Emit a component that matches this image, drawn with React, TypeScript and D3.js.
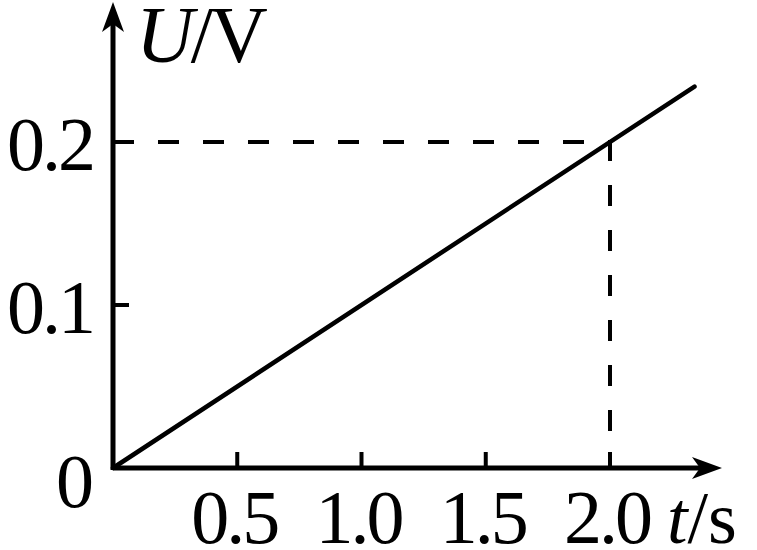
import React from "react";
import * as d3 from "d3";

// values
const xTicks = [0.5, 1.0, 1.5, 2.0];
const xTickLabels = ["0.5", "1.0", "1.5", "2.0"];
const yTicks = [0.1, 0.2];
const yTickLabels = ["0.1", "0.2"];
const lineT = [0, 2.34];
const lineU = [0, 0.234];
const markT = 2.0;
const markU = 0.2;

const width = 757;
const height = 550;
const origin = { x: 113, y: 468 };

const App = () => {
    // x: time (s), y: voltage (V)
    const x = d3.scaleLinear().domain([0, 2]).range([origin.x, 610]);
    const y = d3.scaleLinear().domain([0, 0.2]).range([origin.y, 142]);

    const line = d3
        .line<number>()
        .x((d, i) => x(lineT[i]))
        .y((d) => y(d));

    const font = "'Liberation Serif', 'Times New Roman', serif";
    const xEnd = 722;
    const yEnd = 2;

    return (
        <svg
            width={width}
            height={height}
            style={{ position: "absolute", left: 0, top: 0, background: "#fff" }}
        >
            {/* dashed guides */}
            <path
                d={`M${x(0)},${y(markU)}H${x(markT)}V${y(0)}`}
                fill="none"
                stroke="#000"
                strokeWidth={4}
                strokeDasharray="21,24"
            />

            {/* axes */}
            <line x1={origin.x} y1={origin.y} x2={xEnd - 10} y2={origin.y} stroke="#000" strokeWidth={5} />
            <line x1={origin.x} y1={origin.y + 2} x2={origin.x} y2={yEnd + 12} stroke="#000" strokeWidth={5} />
            <path
                d={`M${xEnd},${origin.y}L${xEnd - 30},${origin.y - 11}L${xEnd - 22},${origin.y}L${xEnd - 30},${origin.y + 11}Z`}
                fill="#000"
            />
            <path
                d={`M${origin.x},${yEnd}L${origin.x - 11},${yEnd + 30}L${origin.x},${yEnd + 22}L${origin.x + 11},${yEnd + 30}Z`}
                fill="#000"
            />

            {/* ticks */}
            {xTicks.map((t) => (
                <line key={t} x1={x(t)} x2={x(t)} y1={origin.y} y2={origin.y - 16} stroke="#000" strokeWidth={4} />
            ))}
            {yTicks.map((u) => (
                <line key={u} x1={origin.x} x2={origin.x + 16} y1={y(u)} y2={y(u)} stroke="#000" strokeWidth={4} />
            ))}

            {/* data line */}
            <path d={line(lineU) || ""} fill="none" stroke="#000" strokeWidth={4.5} strokeLinecap="round" />

            {/* tick labels */}
            <g fontFamily={font} fontSize={76} fill="#000">
                {xTicks.map((t, i) => (
                    <text key={t} x={x(t) - 3} y={543} textAnchor="middle" letterSpacing={-3}>
                        {xTickLabels[i]}
                    </text>
                ))}
                {yTicks.map((u, i) => (
                    <text key={u} x={93} y={y(u) + 28} textAnchor="end" letterSpacing={-3}>
                        {yTickLabels[i]}
                    </text>
                ))}
                <text x={94} y={507} textAnchor="end">0</text>
            </g>

            {/* axis titles */}
            <text x={136} y={62} fontFamily={font} fontSize={80} fill="#000" letterSpacing={-3}>
                <tspan fontStyle="italic">U</tspan>
                <tspan>/V</tspan>
            </text>
            <text x={667} y={543} fontFamily={font} fontSize={74} fill="#000">
                <tspan fontStyle="italic">t</tspan>
                <tspan>/s</tspan>
            </text>
        </svg>
    );
};

export default App;
